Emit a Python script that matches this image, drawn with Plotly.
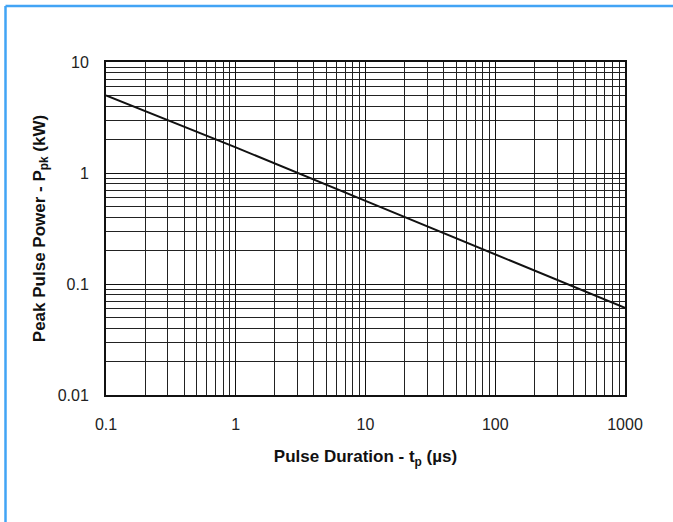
import plotly.graph_objects as go

# Data (log-log straight line)
pulse_duration_us = [0.1, 1, 10, 100, 1000]
peak_power_kw = [5.0, 1.7, 0.56, 0.185, 0.061]

x_tick_vals = [0.1, 1, 10, 100, 1000]
x_tick_text = ["0.1", "1", "10", "100", "1000"]
y_tick_vals = [0.01, 0.1, 1, 10]
y_tick_text = ["0.01", "0.1", "1", "10"]

x_minor = [m * 10.0 ** e for e in range(-1, 3) for m in range(2, 10)]
y_minor = [m * 10.0 ** e for e in range(-2, 1) for m in range(2, 10)]

FONT = "Liberation Sans, Arial, sans-serif"

fig = go.Figure()
fig.add_trace(go.Scatter(
    x=pulse_duration_us, y=peak_power_kw, mode="lines",
    line=dict(color="#111111", width=2), showlegend=False, hoverinfo="skip"))

W, H = 673, 522
L, R, T, B = 106, 48, 62, 127
pw, ph = W - L - R, H - T - B

def px(xp):
    return (xp - L) / pw

def py(yp):
    return 1 - (yp - T) / ph

axis_common = dict(
    type="log", showline=True, mirror=True, linecolor="#111111", linewidth=2,
    showgrid=True, gridcolor="#111111", gridwidth=1, zeroline=False,
    ticks="", tickfont=dict(family=FONT, size=16, color="#222222"),
)

fig.update_xaxes(
    **axis_common, range=[-1, 3], tickmode="array",
    tickvals=x_tick_vals, ticktext=x_tick_text, ticklabelstandoff=14,
    minor=dict(tickmode="array", tickvals=x_minor, showgrid=True,
               gridcolor="#222222", gridwidth=1, ticks=""),
    title=dict(text="<b>Pulse Duration - t<sub>p</sub> (µs)</b>",
               font=dict(family=FONT, size=17, color="#111111"), standoff=18),
)
fig.update_yaxes(
    **axis_common, range=[-2, 1], tickmode="array",
    tickvals=y_tick_vals, ticktext=y_tick_text, ticklabelstandoff=12,
    minor=dict(tickmode="array", tickvals=y_minor, showgrid=True,
               gridcolor="#222222", gridwidth=1, ticks=""),
    title=dict(text="<b>Peak Pulse Power - P<sub>pk</sub> (kW)</b>",
               font=dict(family=FONT, size=17, color="#111111"), standoff=8),
)

# light blue frame (top and left edges visible in the reference)
frame_col = "#42a4f5"
fig.add_shape(type="line", xref="paper", yref="paper",
              x0=px(5.5), x1=px(700), y0=py(6), y1=py(6),
              line=dict(color=frame_col, width=2.5))
fig.add_shape(type="line", xref="paper", yref="paper",
              x0=px(5.5), x1=px(5.5), y0=py(6), y1=py(540),
              line=dict(color=frame_col, width=2.5))

fig.update_layout(
    width=W, height=H, autosize=False,
    margin=dict(l=L, r=R, t=T, b=B, pad=0),
    paper_bgcolor="white", plot_bgcolor="white",
    font=dict(family=FONT),
)

fig.write_html("out.html", config={"displayModeBar": False},
               post_script="document.body.style.margin='0px';")
